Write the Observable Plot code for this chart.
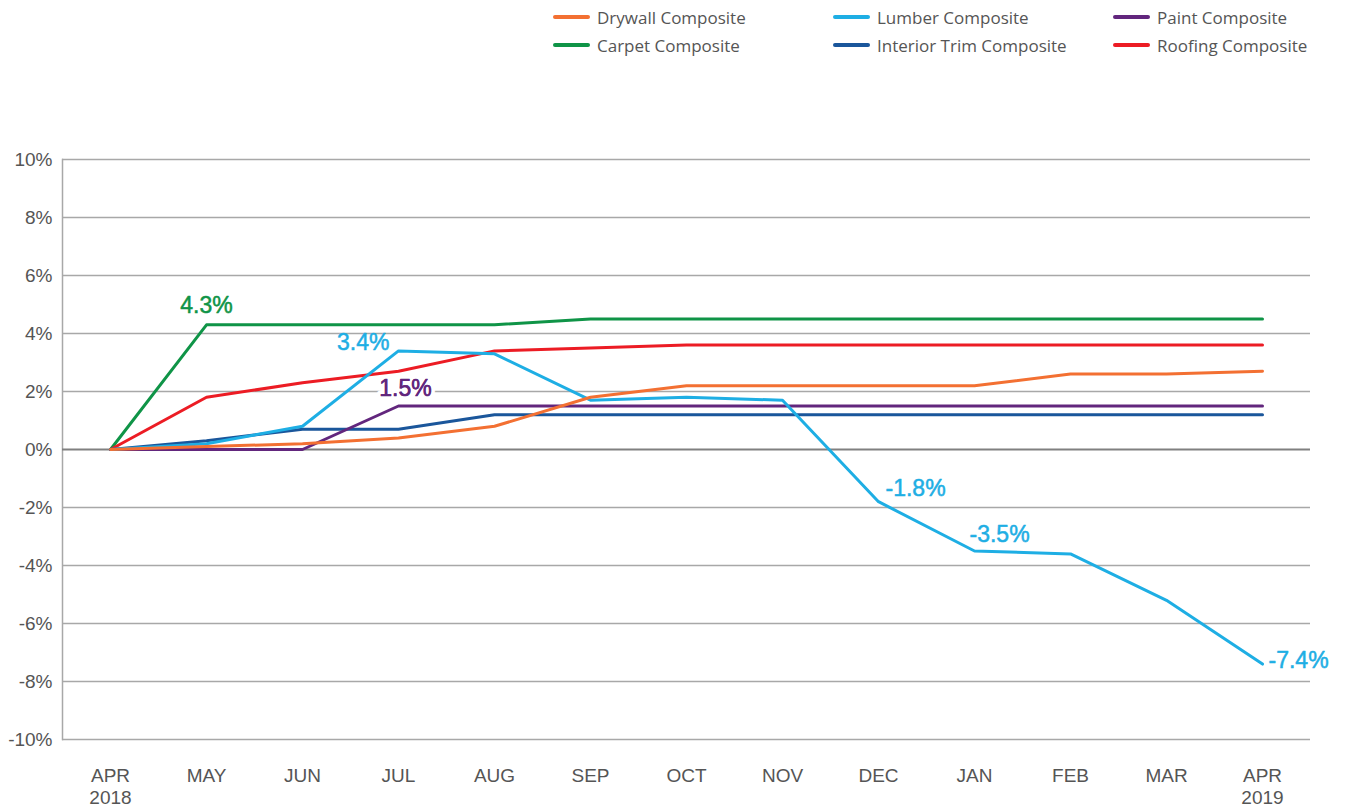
<!DOCTYPE html>
<html><head><meta charset="utf-8">
<script src="https://cdn.jsdelivr.net/npm/d3@7"></script>
<script src="https://cdn.jsdelivr.net/npm/@observablehq/plot@0.6"></script>
<style>
body{margin:0;background:#fff;width:1347px;height:808px;overflow:hidden;position:relative;font-family:"Liberation Sans",Arial,sans-serif}
#legend{position:absolute;left:553px;top:3px;display:grid;grid-template-columns:280px 280px 200px}
.item{display:flex;align-items:center;height:28px;font-family:"Open Sans",sans-serif;font-size:17px;color:#555;white-space:nowrap}
.sw{width:37px;height:4px;border-radius:2px;margin-right:7px;flex:none}
#chart{position:absolute;left:0;top:60px}
</style></head>
<body>
<div id="legend"></div>
<div id="chart"></div>
<script>
const months = ["2018-04","2018-05","2018-06","2018-07","2018-08","2018-09","2018-10","2018-11","2018-12","2019-01","2019-02","2019-03","2019-04"];
const monthLabels = ["APR\n2018","MAY","JUN","JUL","AUG","SEP","OCT","NOV","DEC","JAN","FEB","MAR","APR\n2019"];
const yTicks = [-10,-8,-6,-4,-2,0,2,4,6,8,10];

const seriesNames = ["Drywall Composite","Lumber Composite","Paint Composite","Carpet Composite","Interior Trim Composite","Roofing Composite"];
const seriesColors = ["#f37032","#1eaee4","#62267d","#0f9447","#1a569b","#ec1c24"];

const drywall  = [0,0.1,0.2,0.4,0.8,1.8,2.2,2.2,2.2,2.2,2.6,2.6,2.7];
const lumber   = [0,0.2,0.8,3.4,3.3,1.7,1.8,1.7,-1.8,-3.5,-3.6,-5.2,-7.4];
const paint    = [0,0,0,1.5,1.5,1.5,1.5,1.5,1.5,1.5,1.5,1.5,1.5];
const carpet   = [0,4.3,4.3,4.3,4.3,4.5,4.5,4.5,4.5,4.5,4.5,4.5,4.5];
const trim     = [0,0.3,0.7,0.7,1.2,1.2,1.2,1.2,1.2,1.2,1.2,1.2,1.2];
const roofing  = [0,1.8,2.3,2.7,3.4,3.5,3.6,3.6,3.6,3.6,3.6,3.6,3.6];

const seriesValues = {
  "Drywall Composite": drywall,
  "Lumber Composite": lumber,
  "Paint Composite": paint,
  "Carpet Composite": carpet,
  "Interior Trim Composite": trim,
  "Roofing Composite": roofing
};
const drawOrder = ["Carpet Composite","Roofing Composite","Interior Trim Composite","Paint Composite","Lumber Composite","Drywall Composite"];

const rows = [];
for (const s of drawOrder) seriesValues[s].forEach((v,i) => rows.push({series:s, month:months[i], value:v}));

const pt = (arr, m) => [{month:m, value:arr[months.indexOf(m)]}];
const fmt = d => d.value.toFixed(1) + "%";
const colorOf = s => seriesColors[seriesNames.indexOf(s)];

// legend
const lg = document.getElementById("legend");
for (let i = 0; i < seriesNames.length; i++) {
  const it = document.createElement("div"); it.className = "item";
  it.innerHTML = `<span class="sw" style="background:${seriesColors[i]}"></span>${seriesNames[i]}`;
  lg.appendChild(it);
}

const annFont = {fontSize:23, fontFamily:"Liberation Sans, Arial, sans-serif", text: fmt};
const ann = (arr, m, series, opts) => Plot.text(pt(arr, m), {x:"month", y:"value", ...annFont, fill:colorOf(series), stroke:colorOf(series), strokeWidth:0.5, ...opts});

const chart = Plot.plot({
  width: 1347, height: 748,
  marginTop: 99, marginBottom: 69, marginLeft: 62, marginRight: 37,
  style: {color:"#555", fontFamily:"Liberation Sans, Arial, sans-serif", background:"#fff"},
  x: {type:"point", domain: months, padding: 0.5, label: null},
  y: {domain: [-10,10], label: null},
  color: {domain: seriesNames, range: seriesColors},
  marks: [
    Plot.ruleY(yTicks.filter(d => d !== 0), {stroke:"#a8a8a8", strokeWidth:1.5}),
    Plot.frame({anchor:"left", stroke:"#a8a8a8", strokeWidth:1.5}),
    Plot.ruleY([0], {stroke:"#808080", strokeWidth:2}),
    Plot.axisY({ticks: yTicks, tickFormat: d => d + "%", tickSize:0, tickPadding:10, fontSize:19, label: null}),
    Plot.axisX({tickSize:0, tickPadding:26, fontSize:19, tickFormat: (d) => monthLabels[months.indexOf(d)], lineHeight:1.2, label: null}),
    Plot.line(rows, {x:"month", y:"value", z:"series", stroke:"series", strokeWidth:3, strokeLinejoin:"round"}),
    ann(carpet, "2018-05", "Carpet Composite", {dy:-19}),
    ann(lumber, "2018-07", "Lumber Composite", {textAnchor:"end", dx:-9, dy:-8}),
    Plot.text(pt(paint,"2018-07"), {x:"month", y:"value", ...annFont, fill:colorOf("Paint Composite"), dx:7, dy:-17, stroke:"white", strokeWidth:8, paintOrder:"stroke"}),
    ann(paint, "2018-07", "Paint Composite", {dx:7, dy:-17}),
    ann(lumber, "2018-12", "Lumber Composite", {textAnchor:"start", dx:7, dy:-13}),
    ann(lumber, "2019-01", "Lumber Composite", {textAnchor:"start", dx:-5, dy:-16}),
    ann(lumber, "2019-04", "Lumber Composite", {textAnchor:"start", dx:6, dy:-3})
  ]
});
document.getElementById("chart").appendChild(chart);
</script>
</body></html>
